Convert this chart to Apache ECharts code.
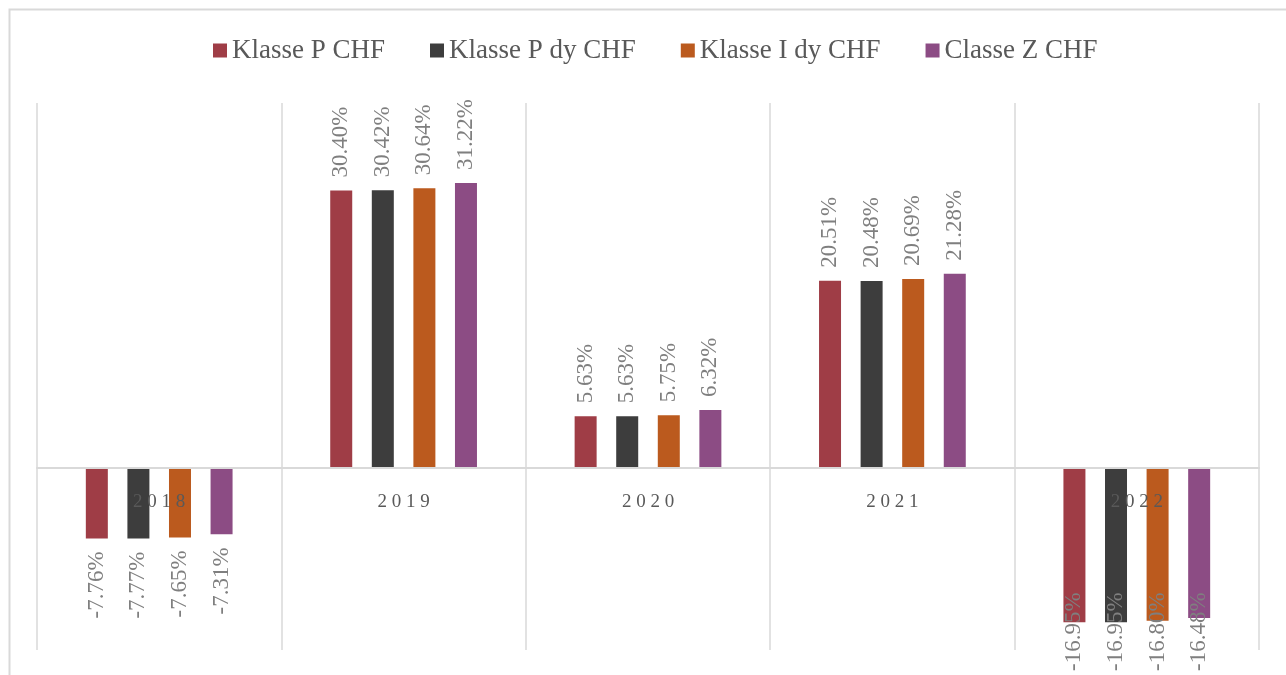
<!DOCTYPE html>
<html>
<head>
<meta charset="utf-8">
<script src="https://cdn.jsdelivr.net/npm/echarts@6/dist/echarts.min.js"></script>
<style>
  html, body { margin: 0; padding: 0; background: #fff; }
  #chart { width: 1286px; height: 675px; }
</style>
</head>
<body>
<div id="chart"></div>
<script>
const years = ['2018', '2019', '2020', '2021', '2022']
const seriesNames = ['Klasse P CHF', 'Klasse P dy CHF', 'Klasse I dy CHF', 'Classe Z CHF']
const klassePChf = [-7.76, 30.40, 5.63, 20.51, -16.95]
const klassePDyChf = [-7.77, 30.42, 5.63, 20.48, -16.95]
const klasseIDyChf = [-7.65, 30.64, 5.75, 20.69, -16.80]
const classeZChf = [-7.31, 31.22, 6.32, 21.28, -16.48]
const colors = ['#9f3d46', '#3d3d3d', '#bb5a1e', '#8c4c84']

const serif = '"Liberation Serif", "DejaVu Serif", serif'
const chart = echarts.init(document.getElementById('chart'))

// positive labels sit above the bar, negative ones below
const makeData = (values) => values.map(v => ({
  value: v,
  label: v >= 0
    ? { position: 'top', align: 'left', verticalAlign: 'middle' }
    : { position: 'bottom', align: 'right', verticalAlign: 'middle' }
}))

const makeSeries = (name, values, i) => ({
  name: name,
  type: 'bar',
  data: makeData(values),
  barWidth: 22,
  barGap: '89%',
  itemStyle: { color: colors[i] },
  label: {
    show: true,
    rotate: 90,
    distance: 13,
    color: '#7f7f7f',
    fontSize: 23,
    fontFamily: serif,
    formatter: (p) => p.value.toFixed(2) + '%'
  }
})

const option = {
  backgroundColor: '#fff',
  animation: false,
  graphic: [{
    type: 'rect',
    left: 7,
    top: 7,
    shape: { width: 1290, height: 690 },
    style: { fill: 'none', stroke: '#d9d9d9', lineWidth: 2 },
    silent: true
  }],
  legend: {
    data: seriesNames,
    top: 32,
    left: 208,
    itemWidth: 14,
    itemHeight: 14,
    itemGap: 45,
    icon: 'rect',
    textStyle: { color: '#595959', fontSize: 27, fontFamily: serif }
  },
  grid: {
    left: 37,
    right: 27,
    top: 103,
    bottom: 25,
    containLabel: false,
    outerBoundsMode: 'none'
  },
  xAxis: {
    type: 'category',
    data: years,
    z: 10,
    axisTick: { show: false },
    axisLine: { onZero: true, lineStyle: { color: '#d9d9d9', width: 2 } },
    axisLabel: {
      color: '#595959',
      fontSize: 19,
      fontFamily: serif,
      // labels sit just under the zero line, not at the plot bottom
      margin: -157,
      verticalAlign: 'top',
      formatter: (v) => v.split('').join(' ')
    },
    splitLine: { show: true, lineStyle: { color: '#d9d9d9', width: 1.5 } }
  },
  yAxis: {
    type: 'value',
    min: -20,
    max: 40,
    axisLine: { show: false },
    axisTick: { show: false },
    axisLabel: { show: false },
    splitLine: { show: false }
  },
  // keep the labels inside the chart area, like the original does
  labelLayout: (params) => {
    const r = params.labelRect
    const over = r.y + r.height - 671
    if (over > 0) return { dx: over }
    return {}
  },
  series: [
    makeSeries(seriesNames[0], klassePChf, 0),
    makeSeries(seriesNames[1], klassePDyChf, 1),
    makeSeries(seriesNames[2], klasseIDyChf, 2),
    makeSeries(seriesNames[3], classeZChf, 3)
  ]
}

chart.setOption(option)
</script>
</body>
</html>
